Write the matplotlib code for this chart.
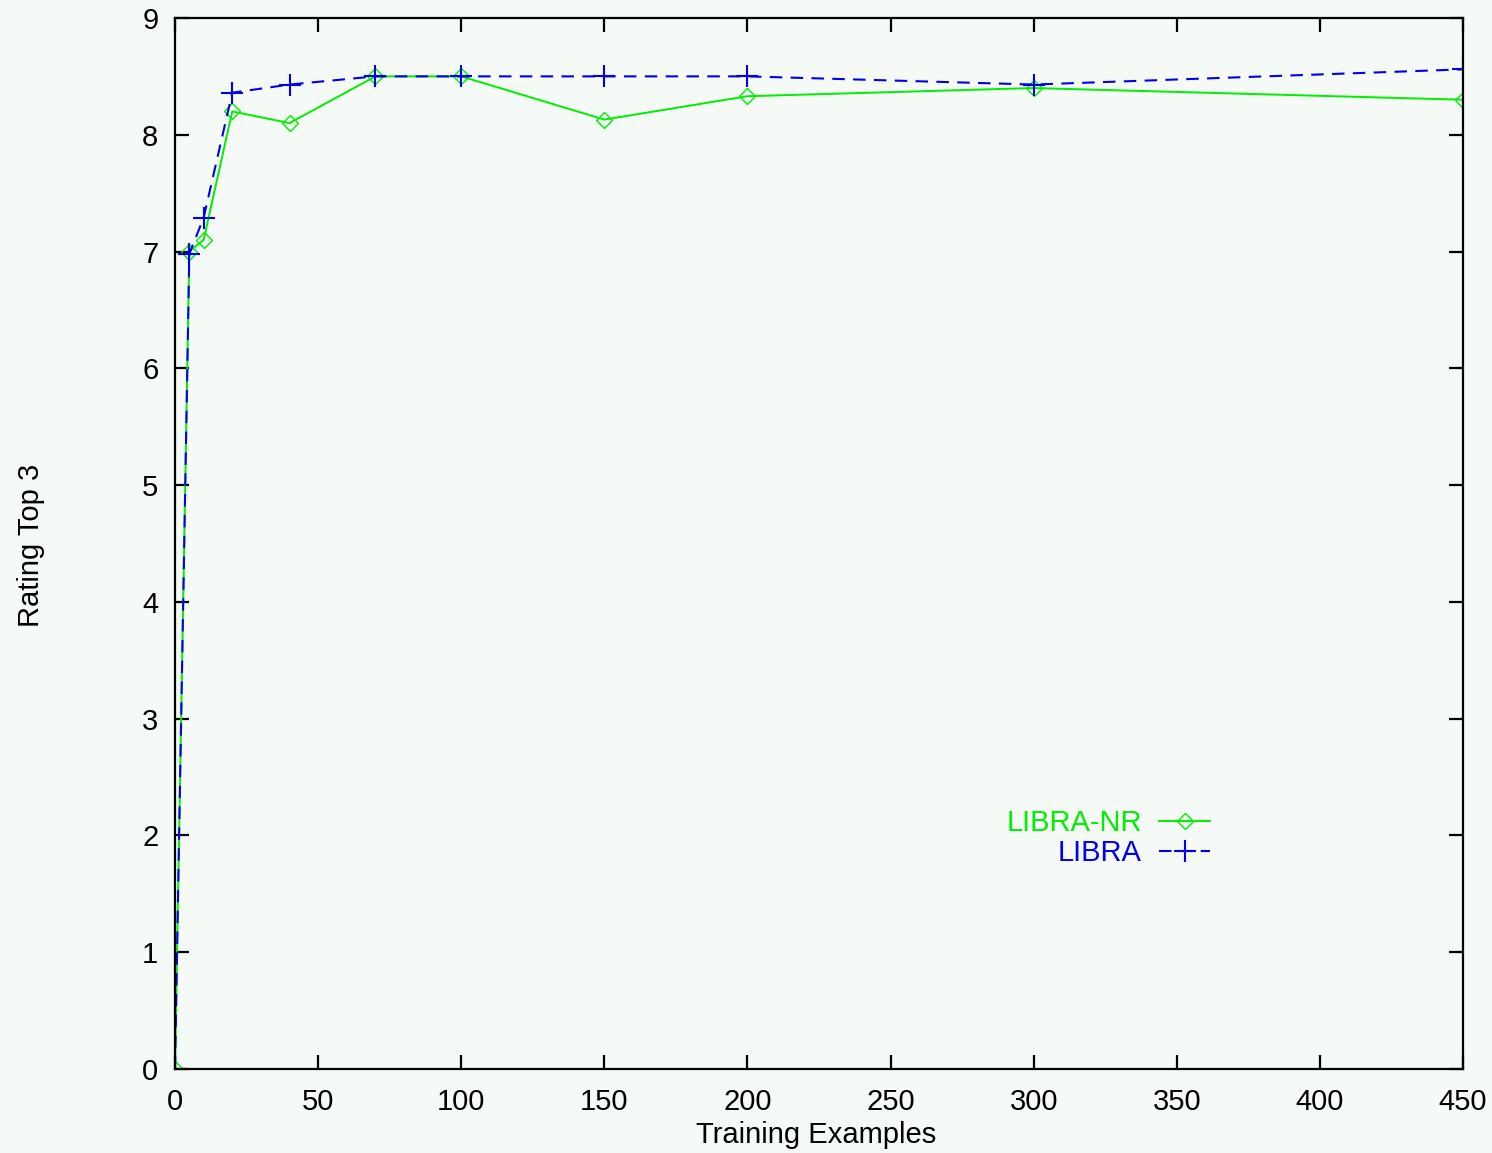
import matplotlib.pyplot as plt

# training examples (x) and ratings
x_nr = [0, 5, 10, 20, 40, 70, 100, 150, 200, 300, 450]
y_nr = [0, 7.0, 7.1, 8.2, 8.1, 8.5, 8.5, 8.13, 8.33, 8.40, 8.30]

x_libra = [0, 5, 10, 20, 40, 70, 100, 150, 200, 300, 450]
y_libra = [0, 6.98, 7.29, 8.36, 8.43, 8.5, 8.5, 8.5, 8.5, 8.43, 8.56]

xticks = [0, 50, 100, 150, 200, 250, 300, 350, 400, 450]
yticks = [0, 1, 2, 3, 4, 5, 6, 7, 8, 9]

bg = '#f5faf6'
plt.rcParams['font.family'] = ['Liberation Sans', 'DejaVu Sans']

fig = plt.figure(figsize=(14.92, 11.53), dpi=100, facecolor=bg)
ax = fig.add_axes([0.1173, 0.0729, 0.8633, 0.9115])
ax.set_facecolor(bg)

ax.plot(x_nr, y_nr, color='#00ee00', linewidth=1.4, linestyle='-',
        marker='D', markersize=8, markerfacecolor='none', markeredgecolor='#00ee00',
        markeredgewidth=1.0, label='LIBRA-NR')
ax.plot(x_libra, y_libra, color='#0000ee', linewidth=1.5, linestyle=(0, (6, 4)),
        marker='+', markersize=16, markeredgewidth=1.5, label='LIBRA')

ax.set_xlim(0, 450)
ax.set_ylim(0, 9)
ax.set_xticks(xticks)
ax.set_yticks(yticks)
ax.tick_params(direction='in', length=10, width=1.6, labelsize=21,
               top=True, right=True)
ax.tick_params(axis='x', pad=14)
ax.tick_params(axis='y', pad=12)
for s in ax.spines.values():
    s.set_linewidth(1.6)

ax.set_xlabel('Training Examples', fontsize=21)
ax.xaxis.set_label_coords(0.498, -0.0495)
ax.set_ylabel('Rating Top 3', fontsize=21)
ax.yaxis.set_label_coords(-0.1010, 0.4986)

leg = ax.legend(loc='upper left', bbox_to_anchor=(0.625, 0.272), frameon=False,
                markerfirst=False, fontsize=21, handlelength=1.75,
                labelspacing=0.05, handletextpad=0.6)
for t, c in zip(leg.get_texts(), ['#00ee00', '#0000ee']):
    t.set_color(c)
    t.set_ha('right')

fig.savefig('out.png', dpi=100, facecolor=bg)
